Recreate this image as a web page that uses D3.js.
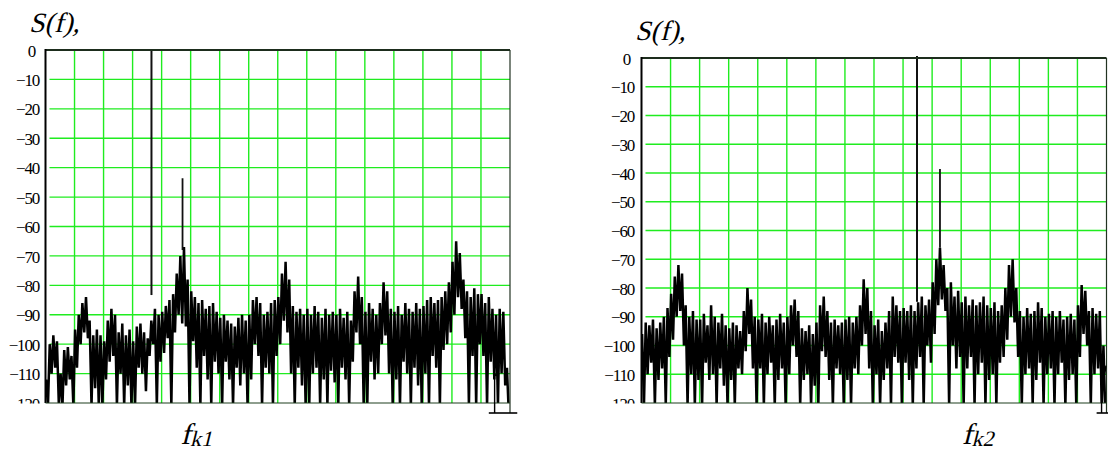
<!DOCTYPE html>
<html><head><meta charset="utf-8">
<script src="https://cdn.jsdelivr.net/npm/d3@7"></script>
<style>body{margin:0;background:#fff;} svg{display:block;}</style>
</head><body>
<svg id="c" width="1108" height="453"></svg>
<script>
// ---- data (dB levels) ----
const yTicks = [0,-10,-20,-30,-40,-50,-60,-70,-80,-90,-100,-110,-120];
const gridF = [1,2,3,4,5,6,7,8,9,10,11,12,13,14,15];
const fDomain = [0,16];

// local maxima / minima of the noisy spectrum, 8 per grid division
const leftHi = [
 -112,-100,-97,-99,-110,-102,-101,-104,
 -95,-90,-86,-84,-92,-97,-95,-97,
 -99,-92,-88,-90,-96,-93,-97,-95,
 -99,-94,-93,-96,-98,-92,-88,-90,
 -89,-87,-85,-83,-76,-70,-67,-78,
 -82,-84,-86,-85,-88,-87,-86,-89,
 -91,-90,-92,-93,-94,-91,-90,-92,
 -90,-85,-84,-86,-90,-89,-86,-85,
 -84,-76,-72,-78,-87,-89,-88,-90,
 -88,-90,-87,-89,-91,-88,-90,-89,
 -90,-88,-91,-89,-92,-82,-77,-84,
 -89,-86,-88,-90,-86,-79,-82,-88,
 -89,-87,-90,-86,-88,-89,-86,-88,
 -87,-85,-84,-86,-85,-84,-82,-79,
 -72,-65,-69,-78,-82,-84,-81,-83,
 -83,-86,-84,-88,-90,-88,-89,-108];
const leftLo = [
 -121,-110,-108,-121,-121,-114,-112,-121,
 -108,-100,-96,-98,-121,-115,-121,-121,
 -112,-106,-104,-121,-110,-121,-114,-121,
 -121,-108,-110,-116,-104,-100,-121,-106,
 -103,-98,-121,-96,-90,-93,-94,-121,
 -99,-108,-121,-104,-112,-121,-106,-110,
 -121,-106,-112,-121,-108,-114,-110,-121,
 -112,-100,-104,-121,-108,-110,-121,-104,
 -100,-92,-96,-110,-121,-108,-114,-121,
 -121,-110,-108,-121,-112,-121,-109,-113,
 -121,-108,-112,-121,-106,-96,-100,-121,
 -121,-106,-112,-110,-100,-97,-110,-121,
 -112,-121,-106,-110,-121,-108,-114,-121,
 -110,-121,-104,-108,-121,-102,-100,-96,
 -90,-84,-88,-98,-121,-104,-121,-100,
 -104,-121,-106,-112,-121,-110,-114,-124];
const leftTone = [3.65, 0, -83.3];    // f, top, bottom
const leftSpike = [4.72, -68, -43.6]; // f, base, top

const rightHi = [
 -96,-92,-93,-91,-94,-92,-90,-87,
 -82,-76,-72,-75,-86,-90,-88,-91,
 -91,-89,-93,-86,-90,-92,-89,-93,
 -94,-92,-93,-95,-88,-80,-84,-90,
 -91,-89,-92,-90,-93,-91,-89,-92,
 -90,-86,-84,-88,-94,-95,-93,-96,
 -92,-86,-83,-88,-92,-91,-93,-92,
 -91,-90,-92,-90,-86,-77,-80,-88,
 -93,-91,-95,-92,-88,-83,-86,-88,
 -87,-88,-86,-88,-85,-83,-86,-84,
 -78,-70,-66,-72,-80,-78,-83,-81,
 -85,-83,-86,-84,-86,-85,-83,-86,
 -87,-85,-88,-86,-80,-72,-70,-80,
 -88,-90,-87,-89,-88,-85,-87,-90,
 -89,-88,-90,-88,-91,-90,-89,-91,
 -86,-79,-81,-88,-87,-89,-88,-100];
const rightLo = [
 -121,-110,-106,-121,-112,-108,-121,-104,
 -98,-90,-88,-100,-121,-110,-121,-112,
 -121,-106,-112,-110,-121,-108,-114,-121,
 -112,-121,-108,-110,-102,-96,-108,-121,
 -108,-121,-110,-106,-121,-112,-108,-121,
 -110,-100,-104,-121,-112,-110,-121,-114,
 -121,-102,-104,-112,-121,-108,-110,-121,
 -112,-121,-108,-110,-100,-96,-108,-121,
 -110,-121,-112,-108,-121,-104,-106,-121,
 -106,-112,-121,-108,-104,-121,-100,-106,
 -96,-86,-84,-88,-121,-100,-108,-104,
 -121,-108,-104,-121,-110,-106,-121,-112,
 -110,-121,-106,-104,-98,-90,-92,-104,
 -121,-110,-108,-121,-112,-106,-121,-110,
 -108,-121,-110,-106,-121,-112,-110,-121,
 -104,-96,-100,-121,-110,-108,-121,-124];
const rightTone = [9.48, 0.7, -84.8];
const rightSpike = [10.27, -66, -38.6];

const panels = [
  {hi:leftHi, lo:leftLo, tone:leftTone, spike:leftSpike, sub:"k1",
   x0:45.5, x1:510, y0:50, y1:403, labelX:39, titleX:29, titleY:32, xlabF:4.72,
   brA:15.27, brB:16.25, drop:15.47},
  {hi:rightHi, lo:rightLo, tone:rightTone, spike:rightSpike, sub:"k2",
   x0:641.5, x1:1106.5, y0:58, y1:403, labelX:634, titleX:635, titleY:40, xlabF:11.1,
   brA:15.66, brB:16.1, drop:15.83}
];

const svg = d3.select("#c");
const GREEN = "#1fec1f";
const SERIF = "'Liberation Serif', 'Times New Roman', serif";

// upright serif sheared to imitate the italic face (no serif italic installed)
function italic(parent, px, py) {
  return parent.append("g").attr("transform", `translate(${px},${py}) skewX(-14)`)
    .append("text").attr("x", 0).attr("y", 0)
    .style("font-family", SERIF).attr("fill", "#000");
}

panels.forEach((p, k) => {
  const g = svg.append("g");
  const x = d3.scaleLinear().domain(fDomain).range([p.x0, p.x1]);
  const y = d3.scaleLinear().domain([0,-120]).range([p.y0, p.y1]);

  // grid
  g.append("g").selectAll("line").data(gridF).join("line")
    .attr("x1", d => x(d)).attr("x2", d => x(d))
    .attr("y1", p.y0).attr("y2", p.y1)
    .attr("stroke", GREEN).attr("stroke-width", 1.4);
  g.append("g").selectAll("line").data(yTicks.filter(d => d < 0 && d > -120)).join("line")
    .attr("x1", x(0) + 4).attr("x2", x(16))
    .attr("y1", d => y(d)).attr("y2", d => y(d))
    .attr("stroke", GREEN).attr("stroke-width", 1.4);

  // clip paths
  const cid = "clip" + k, lid = "lclip" + k;
  const defs = svg.append("defs");
  defs.append("clipPath").attr("id", cid).append("rect")
    .attr("x", x(0)).attr("y", p.y0 - 5).attr("width", x(16) - x(0)).attr("height", p.y1 - p.y0 + 5);
  defs.append("clipPath").attr("id", lid).append("rect")
    .attr("x", -300).attr("y", -100).attr("width", 400).attr("height", p.y1 + 100.5);

  // trace
  const pts = [];
  p.hi.forEach((v, i) => {
    pts.push([i / 8 + 0.02, v]);
    pts.push([i / 8 + 0.085, p.lo[i]]);
  });
  g.append("path").datum(pts)
    .attr("clip-path", `url(#${cid})`)
    .attr("fill", "none").attr("stroke", "#000").attr("stroke-width", 2.5)
    .attr("stroke-linejoin", "miter").attr("stroke-miterlimit", 3)
    .attr("d", d3.line().x(d => x(d[0])).y(d => y(d[1])));

  // tone line and spike
  g.append("line").attr("x1", x(p.tone[0])).attr("x2", x(p.tone[0]))
    .attr("y1", y(p.tone[1])).attr("y2", y(p.tone[2]))
    .attr("stroke", "#111").attr("stroke-width", 2);
  g.append("line").attr("x1", x(p.spike[0])).attr("x2", x(p.spike[0]))
    .attr("y1", y(p.spike[1])).attr("y2", y(p.spike[2]))
    .attr("stroke", "#111").attr("stroke-width", 1.8);

  // frame
  g.append("line").attr("x1", x(0)).attr("x2", x(16)).attr("y1", p.y0).attr("y2", p.y0)
    .attr("stroke", "#1d2d1d").attr("stroke-width", 2);
  g.append("line").attr("x1", x(0)).attr("x2", x(0)).attr("y1", p.y0 - 1).attr("y2", p.y1)
    .attr("stroke", "#000").attr("stroke-width", 2);
  g.append("line").attr("x1", x(16)).attr("x2", x(16)).attr("y1", p.y0).attr("y2", p.y1 + 10)
    .attr("stroke", "#223322").attr("stroke-width", 1.2);
  g.append("line").attr("x1", x(0)).attr("x2", x(16)).attr("y1", p.y1).attr("y2", p.y1)
    .attr("stroke", "#1f3f1f").attr("stroke-width", 1.2);
  // end bracket
  g.append("line").attr("x1", x(p.brA)).attr("x2", x(p.brB)).attr("y1", p.y1 + 10).attr("y2", p.y1 + 10)
    .attr("stroke", "#000").attr("stroke-width", 1.6);
  g.append("path")
    .attr("d", `M${x(p.drop)},${p.y1 + 10} L${x(p.drop)},${y(-110)} Q${x(p.drop + 0.1)},${y(-112)} ${x(p.drop + 0.15)},${y(-107)}`)
    .attr("fill", "none").attr("stroke", "#000").attr("stroke-width", 1.4);

  // y axis labels
  const ax = g.append("g").attr("transform", `translate(${p.labelX},0)`)
    .attr("clip-path", `url(#${lid})`)
    .call(d3.axisLeft(y).tickValues(yTicks).tickSize(0).tickPadding(0)
      .tickFormat(d => d === 0 ? "0" : "\u2212" + Math.abs(d)));
  ax.select(".domain").remove();
  ax.attr("font-family", null).attr("font-size", null);
  ax.selectAll("text")
    .style("font-family", SERIF)
    .style("font-size", "17px").attr("fill", "#000")
    .style("letter-spacing", "-1.2px")
    .attr("x", d => d === 0 ? -4 : 0)
    .attr("dy", "0.36em");

  // title
  italic(g, p.titleX, p.titleY).style("font-size", "28px").text("S(f),");

  // x label
  const xl = italic(g, x(p.xlabF) - 2, 444);
  xl.append("tspan").style("font-size", "30px").text("f");
  xl.append("tspan").style("font-size", "22px").attr("dy", 2).text(p.sub);
});
</script>
</body></html>
